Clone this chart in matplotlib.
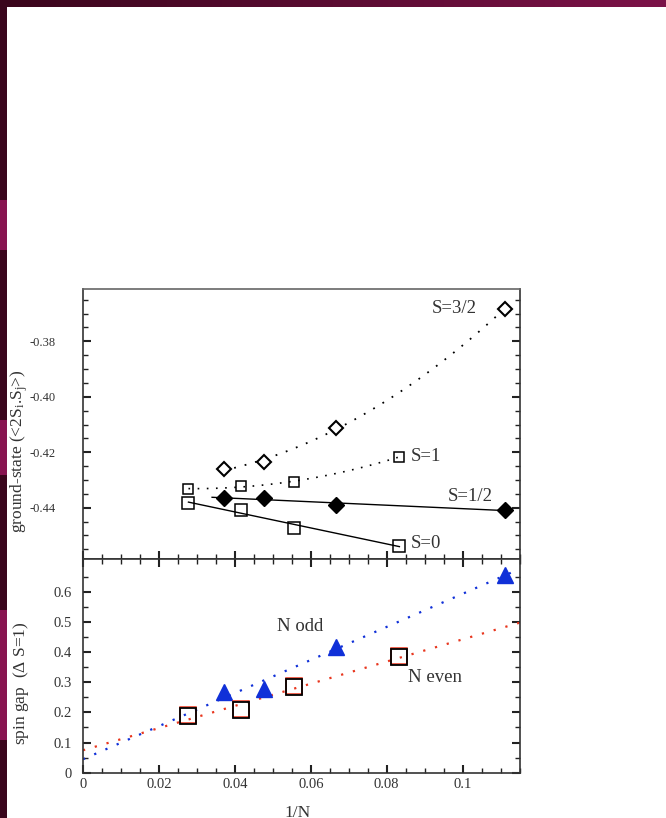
import matplotlib
matplotlib.use("Agg")
import matplotlib.pyplot as plt
from matplotlib.ticker import MultipleLocator, FixedLocator, FuncFormatter
import numpy as np

plt.rcParams['font.family'] = ['Liberation Serif', 'DejaVu Serif']
plt.rcParams['mathtext.fontset'] = 'custom'
plt.rcParams['mathtext.rm'] = 'Liberation Serif'
plt.rcParams['mathtext.it'] = 'Liberation Serif:italic'

# system sizes
N_even = np.array([36, 24, 18, 12])
N_odd = np.array([27, 21, 15, 9])

# ground-state energies per sector
e_s0 = [-0.4382, -0.4409, -0.4472, -0.4537]
e_s1 = [-0.4333, -0.4320, -0.4308, -0.4216]
e_s12 = [-0.4364, -0.4366, -0.4390, -0.4408]
e_s32 = [-0.4261, -0.4234, -0.4113, -0.3682]

# spin gaps
gap_odd = [0.2685, 0.2764, 0.4176, 0.6553]
gap_even = [0.188, 0.208, 0.285, 0.3825]
gap_even_red = [0.192, 0.212, 0.289, 0.386]

x_even = 1.0 / N_even
x_odd = 1.0 / N_odd

W, H = 666, 818
fig = plt.figure(figsize=(W / 100, H / 100), dpi=100)

# slide background: maroon strips at top and left
bg = fig.add_axes([0, 0, 1, 1], zorder=-5)
img = np.ones((H, W, 3))
dark = np.array([0x3a, 0x06, 0x1c]) / 255
light = np.array([0x7c, 0x12, 0x48]) / 255
t = np.linspace(0, 1, W)[:, None]
img[:7, :, :] = (dark * (1 - t) + light * t)[None, :, :]
img[:, :7, :] = dark
for y0, y1 in [(200, 250), (420, 475), (610, 740)]:
    img[y0:y1, :7, :] = np.array([0x88, 0x14, 0x50]) / 255
bg.imshow(img, aspect='auto', extent=[0, W, H, 0])
bg.axis('off')

ax1 = fig.add_axes([83 / W, 1 - 559.3 / H, 437 / W, 269.8 / H])
ax2 = fig.add_axes([83 / W, 1 - 772.7 / H, 437 / W, 213.4 / H])

tc = '#333333'
for ax in (ax1, ax2):
    ax.set_xlim(0, 0.1151)
    ax.xaxis.set_major_locator(MultipleLocator(0.02))
    ax.xaxis.set_minor_locator(MultipleLocator(0.005))
    ax.tick_params(which='both', direction='in', right=True, colors='#222222',
                   labelcolor=tc)
    ax.tick_params(which='major', length=6, width=1.5)
    ax.tick_params(which='minor', length=3.5, width=1.0)
    for s in ax.spines.values():
        s.set_linewidth(1.2)
        s.set_color('#333333')

# upper panel: ground-state energies
ax1.set_ylim(-0.4586, -0.3613)
ax1.yaxis.set_major_locator(MultipleLocator(0.02))
ax1.yaxis.set_minor_locator(MultipleLocator(0.005))
ax1.yaxis.set_major_formatter(FuncFormatter(lambda v, p: '%.2f' % v))
ax1.tick_params(axis='x', which='both', top=False, labelbottom=False)
ax1.tick_params(axis='y', labelsize=9, pad=20)
ax1.spines['top'].set_color('#666666')

xs = np.linspace(x_odd[0], x_odd[-1], 100)
ax1.plot(xs, np.polyval(np.polyfit(x_odd, e_s32, 2), xs), color='black',
         lw=1.3, ls=(0, (1, 5)))
xs = np.linspace(x_even[0], x_even[-1], 100)
ax1.plot(xs, np.polyval(np.polyfit(x_even, e_s1, 2), xs), color='black',
         lw=1.2, ls=(0, (1, 4.5)))
xs = np.linspace(0.034, x_odd[-1], 50)
ax1.plot(xs, np.polyval(np.polyfit(x_odd, e_s12, 1), xs), color='black', lw=1.0)
xs = np.linspace(x_even[0], x_even[-1], 50)
ax1.plot(xs, np.polyval(np.polyfit(x_even, e_s0, 1), xs), color='black', lw=1.0)

ax1.plot(x_odd, e_s32, 'D', ms=7.3, mfc='white', mec='black', mew=1.5)
ax1.plot(x_even, e_s1, 's', ms=7.5, mfc='none', mec='black', mew=1.1)
ax1.plot(x_odd, e_s12, 'D', ms=8.5, mfc='black', mec='black')
ax1.plot(x_even, e_s0, 's', ms=8, mfc='none', mec='black', mew=1.1)

lab = dict(fontsize=13.5, color='#333333', va='center')
ax1.text(0.0919, -0.3681, 'S=3/2', **lab)
ax1.text(0.0862, -0.4214, 'S=1', **lab)
ax1.text(0.0961, -0.4360, 'S=1/2', **lab)
ax1.text(0.0862, -0.4528, 'S=0', **lab)

ax1.set_ylabel(r'ground-state (<2S$_{\rm i}$.S$_{\rm j}$>)', fontsize=12.5, color=tc)
ax1.yaxis.set_label_coords(-0.122, 0.40)

# lower panel: spin gap
ax2.set_ylim(0, 0.7074)
ax2.yaxis.set_major_locator(FixedLocator([0, 0.1, 0.2, 0.3, 0.4, 0.5, 0.6]))
ax2.yaxis.set_minor_locator(FixedLocator([0.05, 0.15, 0.25, 0.35, 0.45, 0.55, 0.65]))
fmt = FuncFormatter(lambda v, p: '%g' % round(v, 3))
ax2.xaxis.set_major_formatter(fmt)
ax2.yaxis.set_major_formatter(fmt)
ax2.tick_params(axis='x', which='both', top=True, labelsize=10.5, pad=4)
ax2.tick_params(axis='y', labelsize=10.5, pad=8)

blue = '#1030d8'
red = '#e8361e'
xs = np.linspace(0, 0.113, 60)
ax2.plot(xs, np.polyval(np.polyfit(x_odd, gap_odd, 1), xs), color=blue,
         lw=1.6, ls=(0, (1, 4.5)))
xs = np.linspace(0, 0.1151, 60)
ax2.plot(xs, np.polyval(np.polyfit(x_even, gap_even, 1), xs), color=red,
         lw=1.6, ls=(0, (1, 4.5)))

ax2.plot(x_odd, gap_odd, '^', ms=11.5, color=blue, mec=blue)
ax2.plot(x_even, gap_even_red, 's', ms=11, mfc='none', mec=red, mew=1.1)
ax2.plot(x_even, gap_even, 's', ms=11, mfc='none', mec='black', mew=1.3)

ax2.text(0.0511, 0.483, 'N odd', fontsize=13.5, color=tc, va='center')
ax2.text(0.0856, 0.315, 'N even', fontsize=13.5, color=tc, va='center')

ax2.set_ylabel(r'spin gap  ($\Delta$ S=1)', fontsize=12.5, color=tc)
ax2.yaxis.set_label_coords(-0.118, 0.418)
ax2.set_xlabel('1/N', fontsize=12.5, color=tc)
ax2.xaxis.set_label_coords(0.49, -0.15)

fig.savefig('out.png', dpi=100)
